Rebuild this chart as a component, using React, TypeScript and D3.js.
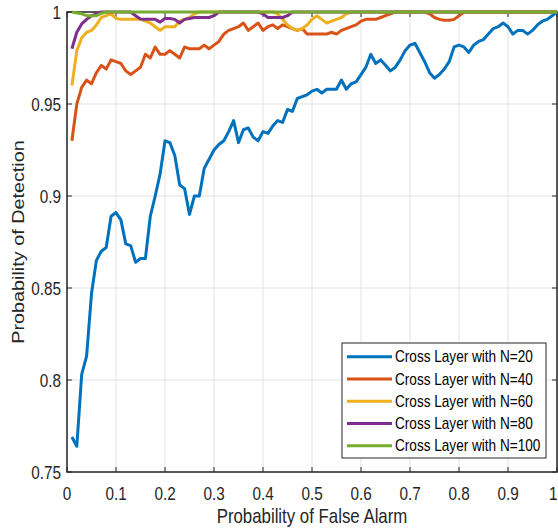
import React from "react";
import * as d3 from "d3";

const pfa: number[] = d3.range(1, 101).map((i) => i / 100);

const n20 = [
  0.769, 0.764, 0.803, 0.813, 0.847, 0.865, 0.870, 0.872, 0.889, 0.891,
  0.887, 0.874, 0.873, 0.864, 0.866, 0.866, 0.889, 0.900, 0.912, 0.930,
  0.929, 0.922, 0.906, 0.904, 0.890, 0.900, 0.900, 0.915, 0.920, 0.925,
  0.928, 0.930, 0.935, 0.941, 0.929, 0.936, 0.937, 0.932, 0.930, 0.935,
  0.934, 0.938, 0.941, 0.940, 0.947, 0.946, 0.953, 0.954, 0.955, 0.957,
  0.958, 0.956, 0.958, 0.958, 0.958, 0.963, 0.958, 0.961, 0.962, 0.966,
  0.970, 0.977, 0.972, 0.974, 0.971, 0.968, 0.970, 0.974, 0.979, 0.982,
  0.983, 0.978, 0.973, 0.967, 0.964, 0.966, 0.969, 0.973, 0.981, 0.982,
  0.981, 0.978, 0.982, 0.984, 0.985, 0.988, 0.991, 0.992, 0.994, 0.992,
  0.988, 0.990, 0.990, 0.988, 0.990, 0.993, 0.995, 0.996, 0.998, 1.000,
];

const n40 = [
  0.930, 0.950, 0.959, 0.963, 0.961, 0.967, 0.971, 0.969, 0.974, 0.973,
  0.972, 0.968, 0.966, 0.968, 0.970, 0.977, 0.975, 0.981, 0.977, 0.977,
  0.979, 0.977, 0.975, 0.981, 0.980, 0.980, 0.980, 0.982, 0.980, 0.982,
  0.984, 0.988, 0.990, 0.991, 0.992, 0.994, 0.990, 0.992, 0.994, 0.990,
  0.992, 0.993, 0.991, 0.993, 0.992, 0.991, 0.990, 0.991, 0.988, 0.988,
  0.988, 0.988, 0.988, 0.989, 0.988, 0.990, 0.991, 0.992, 0.993, 0.995,
  0.996, 0.996, 0.996, 0.997, 0.998, 0.999, 1, 1, 1, 1,
  1, 1, 1, 0.999, 0.997, 0.996, 0.9955, 0.9955, 0.996, 0.998,
  1, 1, 1, 1, 1, 1, 1, 1, 1, 1,
  1, 1, 1, 1, 1, 1, 1, 1, 1, 1,
];

const n60 = [
  0.960, 0.979, 0.986, 0.989, 0.990, 0.993, 0.997, 0.998, 0.999, 0.9965,
  0.996, 0.996, 0.996, 0.996, 0.996, 0.995, 0.994, 0.992, 0.990, 0.992,
  0.992, 0.992, 0.995, 0.996, 0.997, 0.999, 1, 1, 1, 1,
  1, 1, 1, 1, 1, 1, 1, 1, 1, 1,
  1, 1, 0.999, 0.996, 0.993, 0.991, 0.990, 0.991, 0.993, 0.996,
  0.998, 0.996, 0.994, 0.995, 0.996, 0.997, 0.999, 1, 1, 1,
  1, 1, 1, 1, 1, 1, 1, 1, 1, 1,
  1, 1, 1, 1, 1, 1, 1, 1, 1, 1,
  1, 1, 1, 1, 1, 1, 1, 1, 1, 1,
  1, 1, 1, 1, 1, 1, 1, 1, 1, 1,
];

const n80 = [
  0.980, 0.989, 0.9935, 0.996, 0.998, 0.999, 1, 1, 1, 1,
  1, 1, 1, 0.998, 0.9962, 0.996, 0.996, 0.996, 0.9945, 0.9965,
  0.9965, 0.996, 0.994, 0.996, 0.9965, 0.997, 0.997, 0.997, 0.997, 0.998,
  1, 1, 1, 1, 1, 1, 1, 1, 1, 0.999,
  0.997, 0.997, 0.997, 0.997, 0.998, 1, 1, 1, 1, 1,
  1, 1, 1, 1, 1, 1, 1, 1, 1, 1,
  1, 1, 1, 1, 1, 1, 1, 1, 1, 1,
  1, 1, 1, 1, 1, 1, 1, 1, 1, 1,
  1, 1, 1, 1, 1, 1, 1, 1, 1, 1,
  1, 1, 1, 1, 1, 1, 1, 1, 1, 1,
];

const n100 = [
  1.0, 0.9995, 0.999, 0.998, 0.998, 0.998, 0.9993, 1, 1, 1,
  1, 1, 1, 1, 1, 1, 1, 1, 1, 1,
  1, 1, 1, 1, 1, 1, 1, 1, 1, 1,
  1, 1, 1, 1, 1, 1, 1, 1, 1, 1,
  1, 1, 1, 1, 1, 1, 1, 1, 1, 1,
  1, 1, 1, 1, 1, 1, 1, 1, 1, 1,
  1, 1, 1, 1, 1, 1, 1, 1, 1, 1,
  1, 1, 1, 1, 1, 1, 1, 1, 1, 1,
  1, 1, 1, 1, 1, 1, 1, 1, 1, 1,
  1, 1, 1, 1, 1, 1, 1, 1, 1, 1,
];

const seriesNames = [
  "Cross Layer with N=20",
  "Cross Layer with N=40",
  "Cross Layer with N=60",
  "Cross Layer with N=80",
  "Cross Layer with N=100",
];
const seriesValues = [n20, n40, n60, n80, n100];
const seriesColors = ["#0072BD", "#D95319", "#EDB120", "#7E2F8E", "#77AC30"];

const xTicks = [0, 0.1, 0.2, 0.3, 0.4, 0.5, 0.6, 0.7, 0.8, 0.9, 1];
const xTickLabels = ["0", "0.1", "0.2", "0.3", "0.4", "0.5", "0.6", "0.7", "0.8", "0.9", "1"];
const yTicks = [0.75, 0.8, 0.85, 0.9, 0.95, 1];
const yTickLabels = ["0.75", "0.8", "0.85", "0.9", "0.95", "1"];

const W = 558;
const H = 528;
const FONT = "'Liberation Sans', Arial, Helvetica, sans-serif";
const AX = "#262626";
const SX = 0.85;

export default function App() {
  const x = d3.scaleLinear().domain([0, 1]).range([67, 557]);
  const y = d3.scaleLinear().domain([0.75, 1]).range([472, 12]);
  const [x0, x1] = x.range();
  const [y0, y1] = y.range();

  const line = d3
    .line<number>()
    .x((_, i) => x(pfa[i]))
    .y((d) => y(d));

  const legX = 342;
  const legY = 343;
  const legW = 204;
  const legH = 115;
  const rowH = 22.25;

  return (
    <svg
      width={W}
      height={H}
      style={{ position: "fixed", left: 0, top: 0, background: "#fff" }}
      fontFamily={FONT}
    >
      <rect x={0} y={0} width={W} height={H} fill="#fff" />
      {/* grid */}
      {xTicks.map((t) => (
        <line key={"gx" + t} x1={x(t)} x2={x(t)} y1={y1} y2={y0} stroke="#e3e3e3" strokeWidth={1} />
      ))}
      {yTicks.map((t) => (
        <line key={"gy" + t} x1={x0} x2={x1} y1={y(t)} y2={y(t)} stroke="#e3e3e3" strokeWidth={1} />
      ))}
      {/* axes box */}
      <rect x={x0} y={y1} width={x1 - x0} height={y0 - y1} fill="none" stroke={AX} strokeWidth={1.5} />
      {/* ticks */}
      {xTicks.map((t) => (
        <g key={"tx" + t}>
          <line x1={x(t)} x2={x(t)} y1={y0} y2={y0 - 5} stroke={AX} strokeWidth={1} />
          <line x1={x(t)} x2={x(t)} y1={y1} y2={y1 + 5} stroke={AX} strokeWidth={1} />
        </g>
      ))}
      {yTicks.map((t) => (
        <g key={"ty" + t}>
          <line x1={x0} x2={x0 + 5} y1={y(t)} y2={y(t)} stroke={AX} strokeWidth={1} />
          <line x1={x1} x2={x1 - 5} y1={y(t)} y2={y(t)} stroke={AX} strokeWidth={1} />
        </g>
      ))}
      {/* tick labels */}
      {xTicks.map((t, i) => {
        const last = i === xTicks.length - 1;
        return (
          <text
            key={"lx" + t}
            transform={`translate(${last ? x(t) + 0.5 : x(t)},500) scale(${SX},1)`}
            textAnchor={last ? "end" : "middle"}
            fontSize={18}
            fill={AX}
          >
            {xTickLabels[i]}
          </text>
        );
      })}
      {yTicks.map((t, i) => (
        <text
          key={"ly" + t}
          transform={`translate(61,${y(t) + 6.5}) scale(${SX},1)`}
          textAnchor="end"
          fontSize={18}
          fill={AX}
        >
          {yTickLabels[i]}
        </text>
      ))}
      {/* axis labels */}
      <text
        transform={`translate(${(x0 + x1) / 2},523) scale(${SX},1)`}
        textAnchor="middle"
        fontSize={19.8}
        fill={AX}
      >
        Probability of False Alarm
      </text>
      <text
        transform={`translate(23.5,${(y0 + y1) / 2}) rotate(-90) scale(1,${SX})`}
        textAnchor="middle"
        fontSize={19.8}
        fill={AX}
      >
        Probability of Detection
      </text>
      {/* data */}
      {seriesValues.map((vals, k) => (
        <path
          key={"s" + k}
          d={line(vals) || ""}
          fill="none"
          stroke={seriesColors[k]}
          strokeWidth={3}
          strokeLinejoin="round"
          strokeLinecap="butt"
        />
      ))}
      {/* legend */}
      <rect x={legX} y={legY} width={legW} height={legH} fill="#fff" stroke={AX} strokeWidth={1} />
      {seriesNames.map((name, k) => {
        const cy = legY + 13.7 + k * rowH;
        return (
          <g key={"lg" + k}>
            <line x1={legX + 5} x2={legX + 50} y1={cy} y2={cy} stroke={seriesColors[k]} strokeWidth={3} />
            <text
              transform={`translate(${legX + 53},${cy + 5.6}) scale(${SX},1)`}
              fontSize={16}
              fill="#000"
            >
              {name}
            </text>
          </g>
        );
      })}
    </svg>
  );
}
